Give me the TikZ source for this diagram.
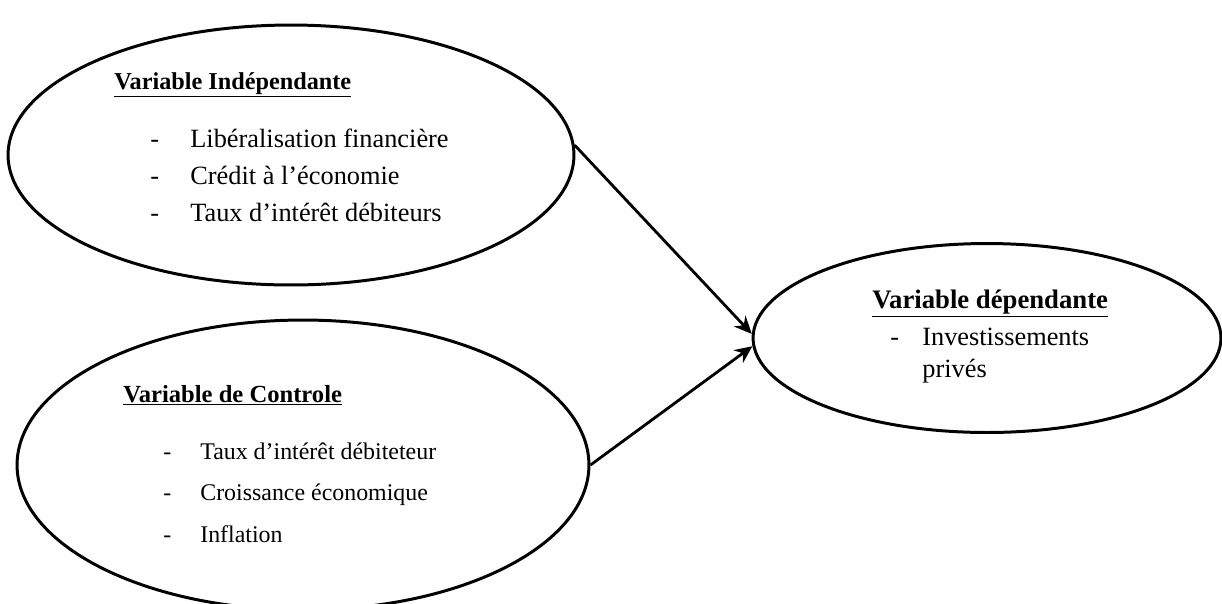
\documentclass[tikz,border=0pt]{standalone}
\usepackage{fontspec}
\setmainfont{Liberation Serif}
\usetikzlibrary{shapes.geometric,arrows.meta}
\newcommand{\tiret}[2]{\makebox[#1][l]{-}#2}
\tikzset{
    bulle/.style={ellipse, draw, line width=1.7pt, inner sep=0pt},
    fleche/.style={-{Stealth[length=10pt,width=9pt]}, line width=1.6pt},
    liste/.style={anchor=base west, inner sep=0pt, align=left},
    titre/.style={anchor=base west, inner sep=0pt},
}
\begin{document}
\begin{tikzpicture}[x=0.02cm,y=-0.02cm]
    \useasboundingbox (0,0) rectangle (1222,603);
    % Ellipses
    \node[bulle, minimum width=11.32cm, minimum height=5.2cm] (indep) at (291,155) {};
    \node[bulle, minimum width=11.44cm, minimum height=5.8cm] (ctrl) at (303,465) {};
    \node[bulle, minimum width=9.36cm, minimum height=3.78cm] (dep) at (987,338) {};

    % Variable independante (base = derniere ligne)
    \node[titre, font=\fontsize{13.8}{16}\selectfont\bfseries] (t-indep) at (114,89)
    {\underline{Variable Indépendante}};
    \node[liste, font=\fontsize{15}{21}\selectfont] (l-indep) at (150,221)
    {\tiret{0.8cm}{Libéralisation financière}\\ \tiret{0.8cm}{Crédit à l’économie}\\
    \tiret{0.8cm}{Taux d’intérêt débiteurs}};

    % Variable de controle
    \node[titre, font=\fontsize{14}{16}\selectfont\bfseries] (t-ctrl) at (123,402)
    {\underline{Variable de Controle}};
    \node[liste, font=\fontsize{13.6}{23.5}\selectfont] (l-ctrl) at (163,542)
    {\tiret{0.74cm}{Taux d’intérêt débiteteur}\\ \tiret{0.74cm}{Croissance économique}\\
    \tiret{0.74cm}{Inflation}};

    % Variable dependante
    \node[titre, font=\fontsize{15.2}{17}\selectfont\bfseries] (t-dep) at (872,308)
    {\underline{Variable dépendante}};
    \node[liste, font=\fontsize{15}{18}\selectfont] (l-dep) at (890,377)
    {\tiret{0.64cm}{Investissements}\\ \hspace*{0.64cm}privés};

    % Fleches
    \draw[fleche] (indep.2) -- (dep.179);
    \draw[fleche] (ctrl.east) -- (dep.182);
\end{tikzpicture}
\end{document}
